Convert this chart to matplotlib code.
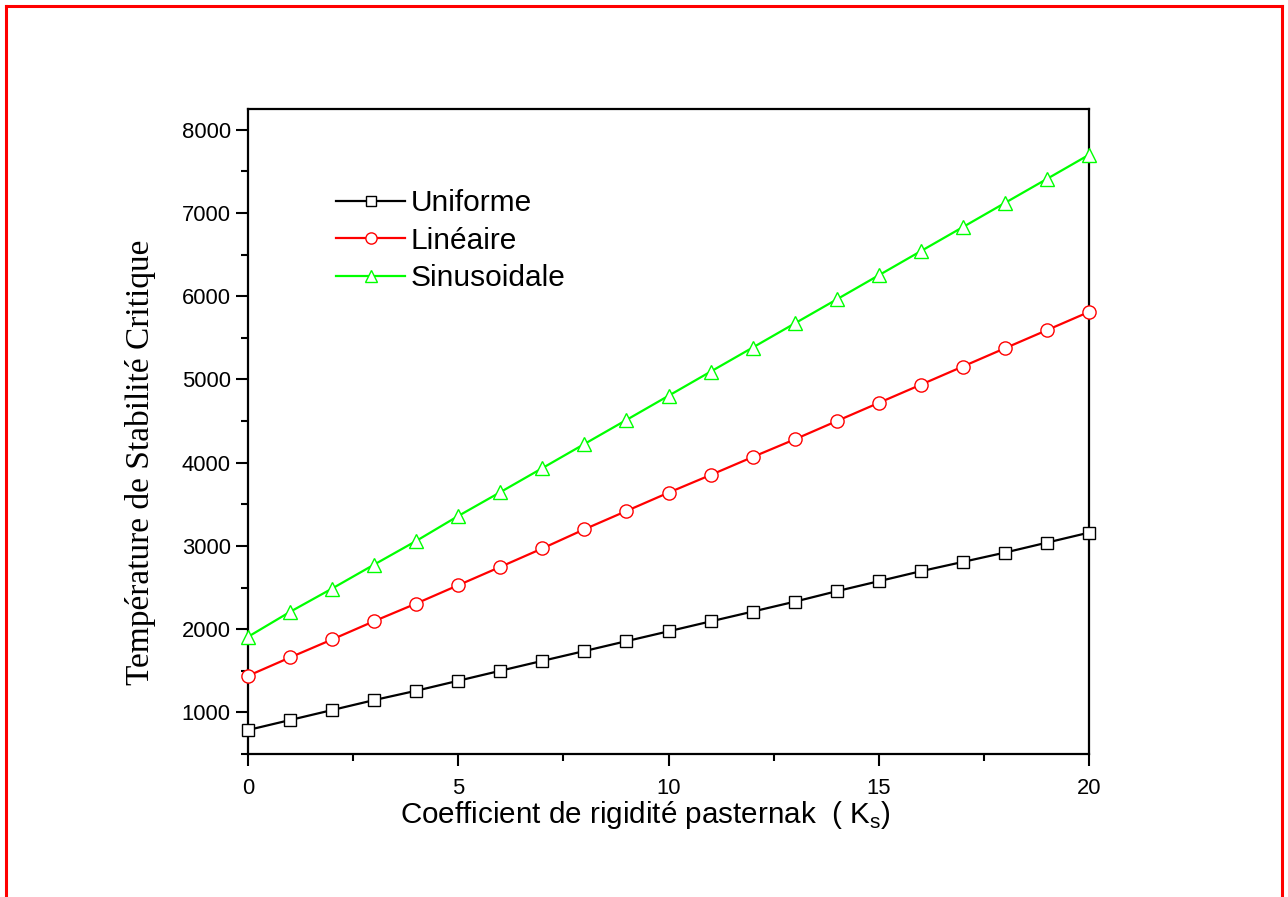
import matplotlib
matplotlib.use("Agg")
import matplotlib.pyplot as plt
from matplotlib.ticker import MultipleLocator
from matplotlib.lines import Line2D

ks = list(range(0, 21))
uniforme = [788, 908, 1028, 1148, 1260, 1380, 1500, 1619, 1737, 1856, 1974,
            2093, 2211, 2330, 2456, 2576, 2696, 2808, 2920, 3040, 3160]
lineaire = [1439, 1660, 1876, 2096, 2308, 2528, 2748, 2970, 3200, 3420, 3640,
            3852, 4068, 4280, 4500, 4719, 4937, 5156, 5375, 5593, 5812]
sinusoidale = [1908, 2208, 2488, 2776, 3060, 3360, 3646, 3935, 4225, 4514, 4804,
               5094, 5383, 5673, 5962, 6252, 6542, 6831, 7121, 7410, 7700]

labels = ["Uniforme", "Linéaire", "Sinusoidale"]
series = [uniforme, lineaire, sinusoidale]
colors = ["#000000", "#FF0000", "#00FF00"]
markers = ["s", "o", "^"]
msizes = [8.5, 9.5, 10.5]

plt.rcParams['font.family'] = ['Liberation Sans', 'DejaVu Sans']

W, H = 1288, 897
fig = plt.figure(figsize=(W/100, H/100), dpi=100)
ax = fig.add_axes([248/W, 1-754/H, (1089-248)/W, (754-109)/H])

for vals, lab, c, m, ms in zip(series, labels, colors, markers, msizes):
    ax.plot(ks, vals, color=c, lw=1.6, marker=m, ms=ms, mfc='white', mec=c,
            mew=1.0, label=lab, clip_on=False, zorder=3)

ax.set_xlim(0, 20)
ax.set_ylim(500, 8250)
ax.xaxis.set_major_locator(MultipleLocator(5))
ax.xaxis.set_minor_locator(MultipleLocator(2.5))
ax.yaxis.set_major_locator(MultipleLocator(1000))
ax.yaxis.set_minor_locator(MultipleLocator(500))
ax.tick_params(which='both', direction='out', width=1.5, labelsize=15.8, top=False, right=False)
ax.tick_params(which='major', length=8.5)
ax.tick_params(axis='x', which='major', pad=9)
ax.tick_params(axis='y', which='major', pad=4)
ax.tick_params(which='minor', length=5)
for s in ax.spines.values():
    s.set_linewidth(1.6)

fig.text(645/W, 1-823/H, "Coefficient de rigidité pasternak  ( K$_\\mathregular{s}$)",
         fontsize=21.3, ha='center', va='baseline')
fig.text(140/W, 1-462/H, "Température de Stabilité Critique", fontsize=24, rotation=90,
         family=['Liberation Serif', 'DejaVu Serif'], ha='center', va='center')

handles = [Line2D([0], [0], color=c, lw=1.6, marker=m, ms=ms * 0.85, mfc='white', mec=c, mew=1.0)
           for c, m, ms in zip(colors, markers, msizes)]
leg = ax.legend(handles, labels, loc='upper left', bbox_to_anchor=(0.105, 0.876),
                frameon=False, fontsize=21.5, handlelength=2.3, handletextpad=0.2,
                labelspacing=0.32, borderpad=0, borderaxespad=0)

# figure border
fig.add_artist(Line2D([6/W, 6/W], [0, 1-6/H], color='#FF0000', lw=2.2, transform=fig.transFigure))
fig.add_artist(Line2D([6/W, 1282/W], [1-6/H, 1-6/H], color='#FF0000', lw=2.2, transform=fig.transFigure))
fig.add_artist(Line2D([1282/W, 1282/W], [1-6/H, 0], color='#FF0000', lw=2.2, transform=fig.transFigure))

fig.savefig("out.png", dpi=100)
